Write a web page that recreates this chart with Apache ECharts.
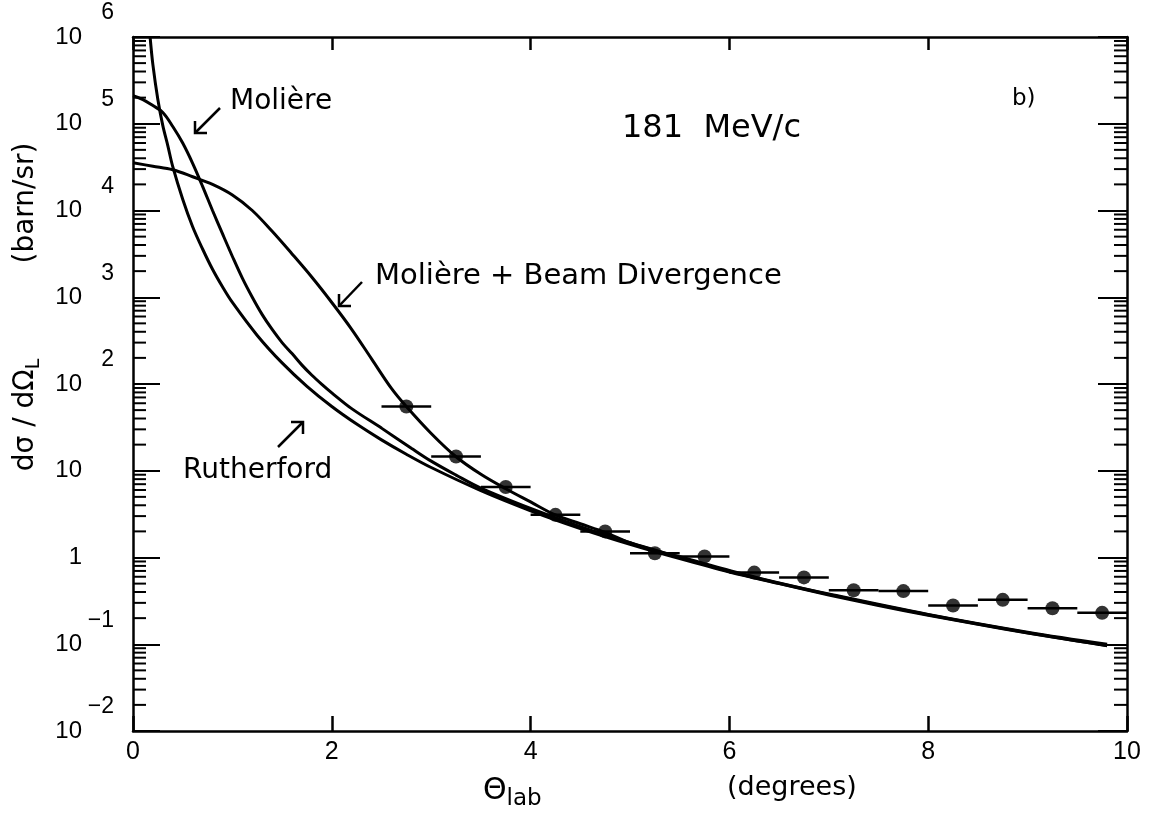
<!DOCTYPE html>
<html><head><meta charset="utf-8">
<script src="https://cdn.jsdelivr.net/npm/echarts@6/dist/echarts.min.js"></script>
<style>html,body{margin:0;padding:0;background:#fff}#c{width:1152px;height:821px}</style>
</head><body><div id="c"></div>
<script>
// ---- data ----
const thetaR = [0.172,0.2,0.25,0.3,0.35,0.4,0.5,0.6,0.7,0.8,0.9,1.0,1.25,1.5,1.75,2.0,2.25,2.5,2.75,3.0,3.5,4.0,4.5,5.0,5.5,6.0,6.5,7.0,7.5,8.0,8.5,9.0,9.5,9.8];
const rutherford = [1.0e6,4.8e5,1.9e5,9.5e4,5.6e4,3.2e4,1.35e4,6500,3600,2100,1320,870,363,175,94,55,34.5,22.7,15.5,10.9,5.9,3.46,2.16,1.42,0.97,0.68,0.50,0.37,0.28,0.216,0.17,0.135,0.109,0.096];

const thetaM = [0,0.1,0.2,0.3,0.4,0.5,0.6,0.7,0.8,0.9,1.0,1.1,1.2,1.3,1.4,1.5,1.6,1.7,1.8,1.9,2.0,2.2,2.5,2.8,3.0,3.25,3.5,4.0,4.5,5.0,5.5,6.0,7.0,8.0,9.0,9.8];
const moliere = [2.1e5,1.9e5,1.62e5,1.35e5,9.3e4,6.0e4,3.5e4,1.9e4,1.0e4,5400,2950,1660,1000,630,425,300,224,165,126,99,79,52,31,18.2,12.9,8.9,6.3,3.67,2.26,1.48,1.01,0.69,0.376,0.219,0.136,0.097];

const thetaB = [0,0.2,0.4,0.6,0.8,1.0,1.2,1.4,1.6,1.8,2.0,2.2,2.4,2.6,2.75,3.0,3.25,3.5,3.75,4.0,4.25,4.5,4.75,5.0,5.25,5.5,5.75,6.0,6.5,7.0,8.0,9.0,9.8];
const beamDiv = [3.55e4,3.24e4,2.95e4,2.45e4,2.0e4,1.51e4,1.0e4,5750,3160,1700,870,427,195,89,55,26.9,14.5,9.1,6.2,4.37,3.09,2.45,1.95,1.48,1.2,1.02,0.85,0.71,0.51,0.38,0.221,0.138,0.1];

const dataTheta = [2.75,3.25,3.75,4.25,4.75,5.25,5.75,6.25,6.75,7.25,7.75,8.25,8.75,9.25,9.75];
const dataValue = [55,14.6,6.5,3.1,2.0,1.12,1.03,0.67,0.59,0.42,0.41,0.28,0.325,0.26,0.23];
const binHalfWidth = 0.25;

const yDecades = [-2,-1,0,1,2,3,4,5,6];

// ---- chart ----
const chart = echarts.init(document.getElementById('c'), null, {renderer:'canvas'});
const K = '#000';
const TF = 'Liberation Sans';

const pair = (xs, ys) => xs.map((x, i) => [x, ys[i]]);

const minorVals = [];
yDecades.slice(0, -1).forEach(e => { for (let m = 2; m <= 9; m++) minorVals.push([0, m * Math.pow(10, e)]); });

const expOf = v => Math.round(Math.log10(v));
function yBase(v) { return expOf(v) === 0 ? '1' : '10'; }
function yExp(v) {
  const e = expOf(v);
  if (e === 0 || e === 1) return '';
  return '{s|' + (e < 0 ? '\u2212' + (-e) : e) + '}';
}

const lineStyle = {color: K, width: 3};
const logAxisBase = {type: 'log', logBase: 10, min: 0.01, max: 1e6, splitNumber: 8, splitLine: {show: false}};

chart.setOption({
  animation: false,
  backgroundColor: '#fff',
  grid: {left: 133, right: 25, top: 37, bottom: 90, containLabel: false},
  xAxis: [
    {type: 'value', min: 0, max: 10, interval: 2, position: 'bottom',
     axisLine: {show: true, onZero: false, lineStyle: {color: K, width: 2.5}},
     axisTick: {show: true, inside: true, length: 15, lineStyle: {color: K, width: 2.5}},
     axisLabel: {color: K, fontFamily: TF, fontSize: 25, margin: 9},
     splitLine: {show: false}},
    {type: 'value', min: 0, max: 10, interval: 2, position: 'top',
     axisLine: {show: true, onZero: false, lineStyle: {color: K, width: 2.5}},
     axisTick: {show: true, inside: true, length: 13, lineStyle: {color: K, width: 2.5}},
     axisLabel: {show: false}, splitLine: {show: false}}
  ],
  yAxis: [
    Object.assign({}, logAxisBase, {position: 'left',
     axisLine: {show: true, onZero: false, lineStyle: {color: K, width: 2.5}},
     axisTick: {show: true, inside: true, length: 27, lineStyle: {color: K, width: 2}},
     axisLabel: {formatter: yBase, color: K, fontFamily: TF, fontSize: 24, margin: 51}}),
    Object.assign({}, logAxisBase, {position: 'right',
     axisLine: {show: true, onZero: false, lineStyle: {color: K, width: 2.5}},
     axisTick: {show: true, inside: true, length: 29, lineStyle: {color: K, width: 2}},
     axisLabel: {show: false}}),
    Object.assign({}, logAxisBase, {position: 'left',
     axisLine: {show: false}, axisTick: {show: false},
     axisLabel: {formatter: yExp, margin: 19, color: K,
       rich: {s: {fontSize: 23, fontFamily: TF, color: K, padding: [0, 0, 48, 0]}}}})
  ],
  series: [
    {type: 'custom', name: 'minor', xAxisIndex: 0, yAxisIndex: 0, data: minorVals, silent: true, z: 1,
     renderItem: (params, api) => {
       const y = api.coord([0, api.value(1)])[1];
       const cs = params.coordSys;
       const st = {stroke: K, lineWidth: 2};
       return {type: 'group', children: [
         {type: 'line', shape: {x1: cs.x, y1: y, x2: cs.x + 13, y2: y}, style: st},
         {type: 'line', shape: {x1: cs.x + cs.width - 13, y1: y, x2: cs.x + cs.width, y2: y}, style: st}
       ]};
     }},
    {type: 'line', name: 'Rutherford', data: pair(thetaR, rutherford), showSymbol: false, smooth: 0.35, lineStyle: lineStyle, z: 3},
    {type: 'line', name: 'Molière', data: pair(thetaM, moliere), showSymbol: false, smooth: 0.35, lineStyle: lineStyle, z: 3},
    {type: 'line', name: 'Molière + Beam Divergence', data: pair(thetaB, beamDiv), showSymbol: false, smooth: 0.35, lineStyle: lineStyle, z: 3},
    {type: 'custom', name: 'bins', data: pair(dataTheta, dataValue), z: 4,
     renderItem: (params, api) => {
       const x = api.value(0), v = api.value(1);
       const a = api.coord([x - binHalfWidth, v]), b = api.coord([x + binHalfWidth, v]);
       return {type: 'line', shape: {x1: a[0], y1: a[1], x2: b[0], y2: b[1]}, style: {stroke: K, lineWidth: 2.5}};
     }},
    {type: 'scatter', name: 'data', data: pair(dataTheta, dataValue), symbol: 'circle', symbolSize: 14,
     itemStyle: {color: K}, z: 5}
  ],
  graphic: [
    {type: 'text', left: 230, top: 88, style: {text: 'Molière', font: '28px "DejaVu Sans"', fill: K}},
    {type: 'polyline', shape: {points: [[220, 108], [195, 133]]}, style: {stroke: K, lineWidth: 2.5, fill: null}},
    {type: 'polyline', shape: {points: [[195, 121], [195, 133], [207, 133]]}, style: {stroke: K, lineWidth: 2.5, fill: null}},
    {type: 'text', left: 375, top: 262, style: {text: 'Molière + Beam Divergence', font: '29px "DejaVu Sans"', fill: K}},
    {type: 'polyline', shape: {points: [[362, 282], [339, 306]]}, style: {stroke: K, lineWidth: 2.5, fill: null}},
    {type: 'polyline', shape: {points: [[339, 294], [339, 306], [351, 306]]}, style: {stroke: K, lineWidth: 2.5, fill: null}},
    {type: 'text', left: 183, top: 457, style: {text: 'Rutherford', font: '28px "DejaVu Sans"', fill: K}},
    {type: 'polyline', shape: {points: [[278, 447], [303, 422]]}, style: {stroke: K, lineWidth: 2.5, fill: null}},
    {type: 'polyline', shape: {points: [[291, 422], [303, 422], [303, 434]]}, style: {stroke: K, lineWidth: 2.5, fill: null}},
    {type: 'text', left: 622, top: 113, style: {text: '181  MeV/c', font: '32px "DejaVu Sans"', fill: K}},
    {type: 'text', left: 1012, top: 88, style: {text: 'b)', font: '23px "DejaVu Sans"', fill: K}},
    {type: 'text', x: 26, y: 203, rotation: Math.PI / 2,
     style: {text: '(barn/sr)', font: '28px "DejaVu Sans"', fill: K, align: 'center', verticalAlign: 'middle', textAlign: 'center', textVerticalAlign: 'middle'}},
    {type: 'text', x: 26, y: 415, rotation: Math.PI / 2,
     style: {text: '{a|dσ / dΩ}{l|L}', fill: K, align: 'center', verticalAlign: 'middle', textAlign: 'center', textVerticalAlign: 'middle',
       rich: {a: {font: '28px "DejaVu Sans"', fill: K, color: K}, l: {font: '19px "DejaVu Sans"', fill: K, color: K, padding: [16, 0, 0, 0]}}}},
    {type: 'text', left: 483, top: 776,
     style: {text: '{t|Θ}{l|lab}', fill: K,
       rich: {t: {font: '30px "DejaVu Sans"', fill: K, color: K}, l: {font: '23px "DejaVu Sans"', fill: K, color: K, padding: [16, 0, 0, 0]}}}},
    {type: 'text', left: 727, top: 774, style: {text: '(degrees)', font: '27px "DejaVu Sans"', fill: K}}
  ]
});
</script></body></html>
